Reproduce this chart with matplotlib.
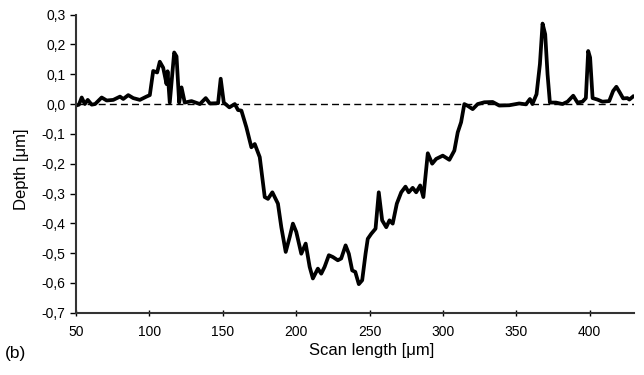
import numpy as np
import matplotlib.pyplot as plt
from matplotlib.ticker import FuncFormatter

plt.rcParams['font.family'] = ['Liberation Sans', 'DejaVu Sans']

# profile (scan length in um, depth in um)
scan = [50, 52, 53.9, 56, 58, 60.7, 63, 67.5, 70.9, 75.4, 80, 82.2, 85.6, 89, 93.5,
        98, 100.3, 102.6, 105.3, 107.1, 109.4, 111.7, 112.4, 113.9, 116.9, 118.5,
        120.3, 121.9, 124.1, 128.7, 134.4, 138.4, 141.2, 146.8, 148.6, 150.7, 154.5,
        158.2, 160.4, 162.7, 166.1, 169.5, 171.8, 175.2, 178.6, 180.8, 183.8, 187.6,
        189.9, 192.9, 195.6, 197.8, 200.1, 203.5, 206.5, 209.2, 211.4, 214.8, 217.1,
        219.4, 222.3, 225, 228.4, 230.7, 233.7, 235.9, 238.2, 240.3, 242.7, 245,
        247.3, 248.8, 251.2, 254.1, 256.3, 258.6, 261.4, 263.6, 265.8, 268.6, 271.6,
        274.5, 276.7, 279.4, 281.8, 284.5, 286.7, 289.7, 292.7, 295.4, 299.9, 304.4,
        307.8, 310.1, 312.4, 314.6, 316.9, 320.3, 323.7, 328.2, 333.9, 338.4, 345.2,
        352, 356.6, 359.3, 361, 363.8, 366.1, 367.9, 369.7, 371.3, 372.9, 377, 381.5,
        384.9, 388.8, 391.7, 395.1, 397.4, 399, 400.3, 402, 405.3, 408.7, 413.3, 416,
        418.2, 420.5, 422.8, 425.7, 427, 429.5]
depth = [-0.005, -0.002, 0.022, 0.0, 0.014, -0.002, 0.0, 0.022, 0.012, 0.014, 0.025,
         0.017, 0.03, 0.02, 0.014, 0.025, 0.03, 0.111, 0.106, 0.142, 0.122, 0.067,
         0.11, 0.005, 0.173, 0.16, 0.005, 0.056, 0.005, 0.01, 0.0, 0.02, 0.002, 0.003,
         0.085, 0.005, -0.011, 0.0, -0.02, -0.022, -0.078, -0.145, -0.134, -0.178,
         -0.312, -0.318, -0.296, -0.334, -0.413, -0.496, -0.446, -0.401, -0.429,
         -0.502, -0.468, -0.546, -0.585, -0.552, -0.569, -0.546, -0.507, -0.513,
         -0.524, -0.518, -0.474, -0.502, -0.558, -0.563, -0.604, -0.591, -0.502,
         -0.452, -0.435, -0.418, -0.296, -0.39, -0.413, -0.39, -0.401, -0.334, -0.296,
         -0.277, -0.296, -0.281, -0.296, -0.273, -0.312, -0.165, -0.2, -0.184, -0.173,
         -0.187, -0.156, -0.095, -0.061, 0.0, -0.006, -0.017, 0.0, 0.006, 0.007,
         -0.005, -0.004, 0.002, -0.001, 0.017, 0.0, 0.033, 0.134, 0.27, 0.234, 0.1,
         0.005, 0.005, 0.0, 0.008, 0.028, 0.005, 0.008, 0.02, 0.178, 0.156, 0.02,
         0.015, 0.008, 0.01, 0.044, 0.058, 0.039, 0.019, 0.02, 0.015, 0.025]

xticks = [50, 100, 150, 200, 250, 300, 350, 400]
yticks = [0.3, 0.2, 0.1, 0.0, -0.1, -0.2, -0.3, -0.4, -0.5, -0.6, -0.7]

fig = plt.figure(figsize=(6.44, 3.75), dpi=100)
ax = fig.add_axes([0.118, 0.166, 0.866, 0.795])

ax.axhline(0, color='black', lw=1.0, ls=(0, (5, 3)), zorder=1)
ax.plot(scan, depth, color='black', lw=2.7, solid_joinstyle='round', zorder=2)

ax.set_xlim(50, 430)
ax.set_ylim(-0.7, 0.3)
ax.set_xticks(xticks)
ax.set_yticks(yticks)
ax.yaxis.set_major_formatter(FuncFormatter(lambda v, p: ('%.1f' % v).replace('.', ',')))

for s in ['top', 'right']:
    ax.spines[s].set_visible(False)
for s in ['left', 'bottom']:
    ax.spines[s].set_color('#333333')
    ax.spines[s].set_linewidth(1.5)
ax.tick_params(axis='x', direction='inout', length=5, width=1, labelsize=10, pad=6)
ax.tick_params(axis='y', direction='out', length=4, width=1, labelsize=10)

ax.set_xlabel('Scan length [μm]', fontsize=12)
ax.xaxis.set_label_coords(0.53, -0.1)
ax.set_ylabel('Depth [μm]', fontsize=12)
ax.yaxis.set_label_coords(-0.085, 0.48)

fig.text(0.008, 0.045, '(b)', fontsize=12.5)

fig.savefig('out.png', dpi=100)
